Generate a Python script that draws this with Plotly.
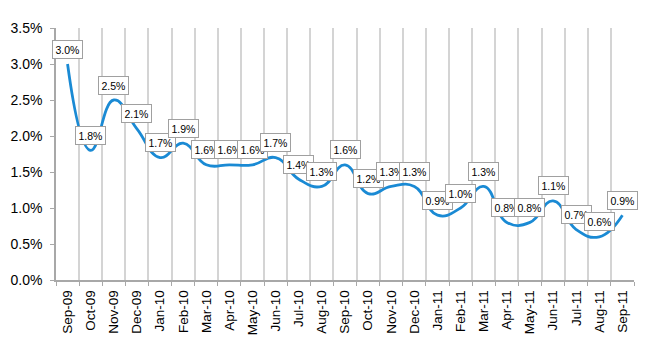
import plotly.graph_objects as go

months = ["Sep-09", "Oct-09", "Nov-09", "Dec-09", "Jan-10", "Feb-10", "Mar-10", "Apr-10",
          "May-10", "Jun-10", "Jul-10", "Aug-10", "Sep-10", "Oct-10", "Nov-10", "Dec-10",
          "Jan-11", "Feb-11", "Mar-11", "Apr-11", "May-11", "Jun-11", "Jul-11", "Aug-11", "Sep-11"]
rates = [3.0, 1.8, 2.5, 2.1, 1.7, 1.9, 1.6, 1.6, 1.6, 1.7, 1.4, 1.3, 1.6, 1.2, 1.3, 1.3,
         0.9, 1.0, 1.3, 0.8, 0.8, 1.1, 0.7, 0.6, 0.9]
y_ticks = [0.0, 0.5, 1.0, 1.5, 2.0, 2.5, 3.0, 3.5]

font_family = "Liberation Sans, Arial, sans-serif"

fig = go.Figure()
fig.add_trace(go.Scatter(
    x=months, y=rates, mode="lines",
    line=dict(color="#1a8ad4", width=2.8, shape="spline", smoothing=1.3),
    hoverinfo="skip", showlegend=False,
))

for m, v in zip(months, rates):
    fig.add_annotation(
        x=m, y=v, text=f"{v:.1f}%", showarrow=False, yshift=15,
        font=dict(family=font_family, size=10.5, color="#000000"),
        bgcolor="#ffffff", bordercolor="#a0a0a0", borderwidth=1, borderpad=2.5,
    )

fig.update_layout(
    width=650, height=350,
    margin=dict(l=56, r=16, t=28, b=70),
    paper_bgcolor="#ffffff", plot_bgcolor="#ffffff",
    font=dict(family=font_family, size=13, color="#000000"),
)
fig.update_xaxes(
    type="category", categoryorder="array", categoryarray=months,
    range=[-0.5, len(months) - 0.5],
    tickson="boundaries", tickangle=-90,
    showgrid=True, gridcolor="#d4d4d4", gridwidth=1.5,
    showline=True, linecolor="#a8a8a8", linewidth=1.5,
    ticks="outside", ticklen=4, tickcolor="#a8a8a8",
    tickfont=dict(size=13.5), zeroline=False, ticklabelstandoff=3,
)
fig.update_yaxes(
    range=[0, 3.5], tickvals=y_ticks, ticktext=[f"{t:.1f}%" for t in y_ticks],
    showgrid=False, zeroline=False,
    showline=True, linecolor="#a8a8a8", linewidth=1.5,
    ticks="outside", ticklen=4, tickcolor="#a8a8a8",
    tickfont=dict(size=14), ticklabelstandoff=5,
)

fig.write_html("out.html")
